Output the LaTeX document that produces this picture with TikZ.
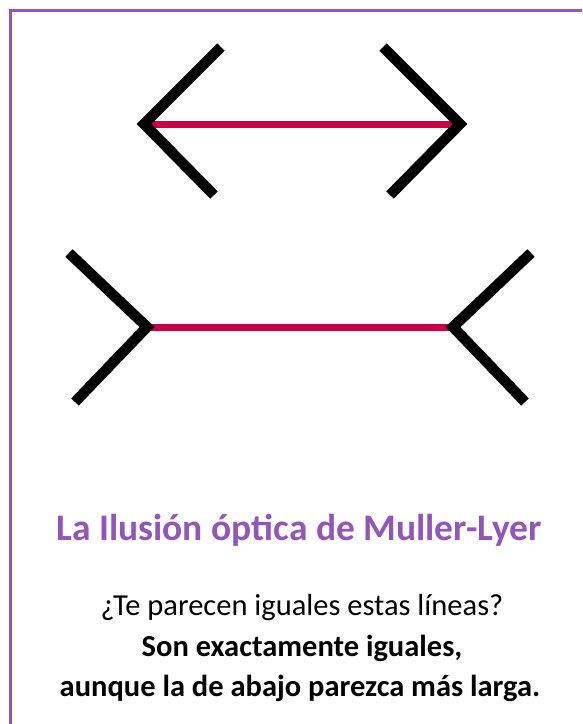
\documentclass[tikz,border=0pt]{standalone}
\usepackage{fontspec}
\setmainfont{Carlito}
\definecolor{lilac}{HTML}{9455BB}
\definecolor{crimson}{HTML}{CC0044}

\begin{document}
\begin{tikzpicture}[line cap=butt,line join=miter,x=1pt,y=-1pt,
  wing/.style={line width=10.5pt,black},
  bar/.style={line width=7pt,crimson}]

\useasboundingbox (0,0) rectangle (582,724);
\clip (0,0) rectangle (582,724);
\draw[lilac,line width=3pt] (10.5,10.5) rectangle (600,740);

% upper figure
\draw[bar] (148,124)-- (457,124);
\draw[wing] (221,47)-- (144,124)-- (214,195);
\draw[wing] (383,47)-- (460,124)-- (390,195);

% lower figure
\draw[bar] (148,327)-- (455,327);
\draw[wing] (69,253)-- (147,327)-- (75,402);
\draw[wing] (531,253)-- (453,327)-- (525,402);

% texts
\node[text=lilac,font=\fontsize{37.5}{44}\selectfont\bfseries] (title) at (299,530) {La Ilusión óptica de Muller-Lyer};
\node[font=\fontsize{30.5}{36}\selectfont] (ask) at (302,608) {¿Te parecen iguales estas líneas?};
\node[font=\fontsize{30.5}{36}\selectfont\bfseries] (say) at (302,648) {Son exactamente iguales,};
\node[font=\fontsize{30.5}{36}\selectfont\bfseries] (more) at (300,688) {aunque la de abajo parezca más larga.};
\end{tikzpicture}
\end{document}
